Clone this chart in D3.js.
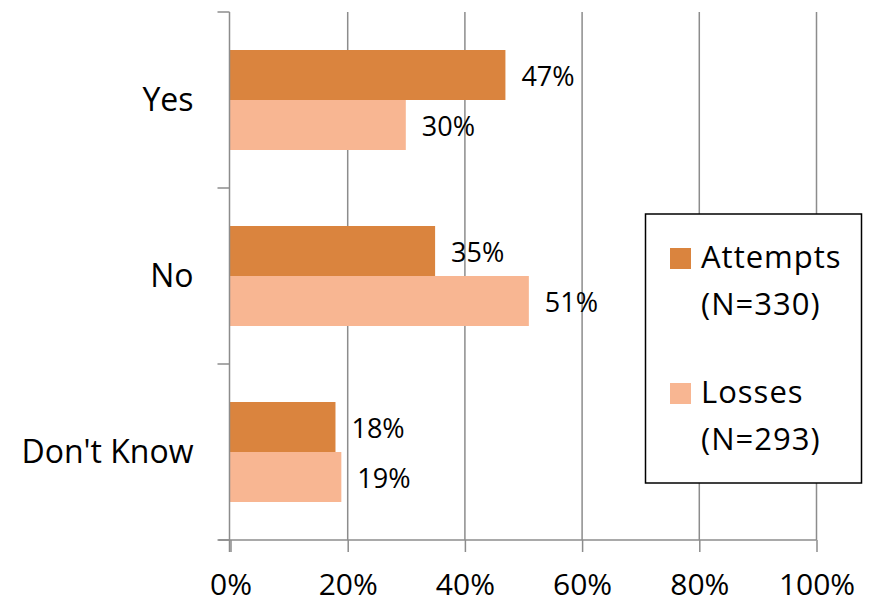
<!DOCTYPE html>
<html>
<head>
<meta charset="utf-8">
<script src="https://cdn.jsdelivr.net/npm/d3@7"></script>
<style>
  html, body { margin: 0; padding: 0; background: #fff; }
  svg { display: block; font-family: "Open Sans", "Noto Sans", sans-serif; }
</style>
</head>
<body>
<svg id="chart" width="875" height="604"></svg>
<script>
// Survey answers and the share of each group (percent)
const categories = ["Yes", "No", "Don't Know"];
const seriesNames = ["Attempts", "Losses"];
const legendLines = [["Attempts", "(N=330)"], ["Losses", "(N=293)"]];
const attempts = [47, 35, 18];
const losses = [30, 51, 19];
const xTicks = [0, 20, 40, 60, 80, 100];
const colors = ["#DA843E", "#F8B692"];

const svg = d3.select("#chart");
const margin = { left: 230, right: 59, top: 12, bottom: 64 };
const W = 875, H = 604;
const x0 = margin.left, x1 = W - margin.right, y0 = margin.top, y1 = H - margin.bottom;

const x = d3.scaleLinear().domain([0, 100]).range([x0, x1]);
const y = d3.scaleBand().domain(categories).range([y0, y1]);
const sub = d3.scaleBand().domain(seriesNames).range([0, y.bandwidth()]).paddingOuter(0.76).paddingInner(0);

const gridColor = "#8c8c8c";

// vertical gridlines
svg.append("g").selectAll("line").data(xTicks.slice(1)).join("line")
  .attr("x1", d => x(d) + 0.5).attr("x2", d => x(d) + 0.5)
  .attr("y1", y0).attr("y2", y1)
  .attr("stroke", gridColor).attr("stroke-width", 1.5);

// bars with value labels
const rows = categories.map((c, i) => ({ c, vals: [attempts[i], losses[i]] }));
const bars = svg.append("g");
rows.forEach(r => {
  r.vals.forEach((v, j) => {
    const s = seriesNames[j];
    bars.append("rect")
      .attr("x", x(0)).attr("y", y(r.c) + sub(s))
      .attr("width", x(v) - x(0)).attr("height", sub.bandwidth())
      .attr("fill", colors[j]);
    bars.append("text")
      .attr("x", x(v) + 16).attr("y", y(r.c) + sub(s) + sub.bandwidth() / 2 + 10.5)
      .attr("font-size", 27).attr("fill", "#000")
      .text(v + "%");
  });
});

// x axis along the bottom
const xAxis = d3.axisBottom(x).tickValues(xTicks).tickFormat(d => d + "%").tickSize(12).tickPadding(0);
const gx = svg.append("g").attr("transform", `translate(0.5,${y1})`).call(xAxis);
gx.select(".domain").attr("d", `M${x0 - 12},0H${x1}`).attr("stroke", gridColor).attr("stroke-width", 1.5);
gx.selectAll(".tick line").attr("stroke", gridColor).attr("stroke-width", 1.5);
gx.selectAll(".tick text").attr("font-size", 30).attr("fill", "#000")
  .attr("dy", null).attr("y", 55).attr("font-family", "Open Sans");

// y axis with category boundaries as ticks
const gy = svg.append("g").attr("transform", `translate(${x0 - 0.5},0)`);
gy.append("line").attr("x1", 0).attr("x2", 0).attr("y1", y0).attr("y2", y1 + 12)
  .attr("stroke", gridColor).attr("stroke-width", 1.5);
const bounds = categories.map(c => y(c)).concat([y1]);
gy.selectAll("line.tk").data(bounds).join("line").attr("class", "tk")
  .attr("x1", -12).attr("x2", 0).attr("y1", d => d).attr("y2", d => d)
  .attr("stroke", gridColor).attr("stroke-width", 1.5);
gy.selectAll("text").data(categories).join("text")
  .attr("x", -36).attr("y", d => y(d) + y.bandwidth() / 2 + 11)
  .attr("text-anchor", "end").attr("font-size", 32).attr("fill", "#000")
  .text(d => d);

// legend
const lg = svg.append("g");
lg.append("rect").attr("x", 645.5).attr("y", 214).attr("width", 216).attr("height", 269)
  .attr("fill", "#fff").attr("stroke", "#000").attr("stroke-width", 1.5);
legendLines.forEach((lines, i) => {
  const top = 248 + i * 135;
  lg.append("rect").attr("x", 670).attr("y", top).attr("width", 21).attr("height", 21).attr("fill", colors[i]);
  lines.forEach((t, k) => {
    lg.append("text").attr("x", 701).attr("y", top + 20 + k * 47)
      .attr("font-size", 31).attr("letter-spacing", 1).attr("fill", "#000").text(t);
  });
});
</script>
</body>
</html>
